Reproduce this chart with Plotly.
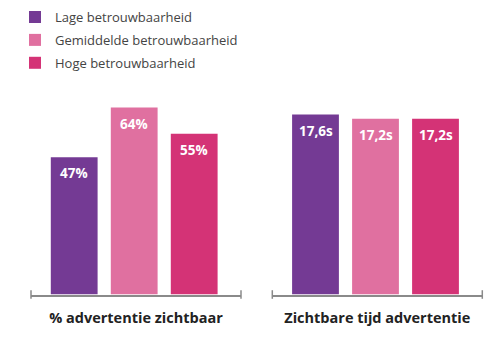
import plotly.graph_objects as go

levels = ["Lage betrouwbaarheid", "Gemiddelde betrouwbaarheid", "Hoge betrouwbaarheid"]
pct_visible = [47, 64, 55]
visible_time = [17.6, 17.2, 17.2]
panel_titles = ["% advertentie zichtbaar", "Zichtbare tijd advertentie"]
colors = ["#743A94", "#E070A0", "#D43376"]

FONT = "Open Sans"
fig = go.Figure()

for i, lvl in enumerate(levels):
    fig.add_trace(go.Bar(
        x=[lvl], y=[pct_visible[i]], name=lvl, marker_color=colors[i],
        marker_line_width=0, width=0.78, legendgroup=lvl, showlegend=True,
        xaxis="x", yaxis="y", hoverinfo="skip"))
    fig.add_trace(go.Bar(
        x=[lvl], y=[visible_time[i]], name=lvl, marker_color=colors[i],
        marker_line_width=0, width=0.78, legendgroup=lvl, showlegend=False,
        xaxis="x2", yaxis="y2", hoverinfo="skip"))

annotations = []
for i, lvl in enumerate(levels):
    annotations.append(dict(x=lvl, y=pct_visible[i], xref="x", yref="y",
                            text=f"<b>{pct_visible[i]}%</b>", showarrow=False,
                            yanchor="top", yshift=-5,
                            font=dict(family=FONT, size=13.5, color="white")))
    annotations.append(dict(x=lvl, y=visible_time[i], xref="x2", yref="y2",
                            text="<b>" + f"{visible_time[i]:.1f}".replace(".", ",") + "s</b>",
                            showarrow=False, yanchor="top", yshift=-5,
                            font=dict(family=FONT, size=13.5, color="white")))

shapes = []
for ax in ["x", "x2"]:
    ya = "y" if ax == "x" else "y2"
    for xd in [0, 1]:
        shapes.append(dict(type="line", xref=f"{ax} domain", yref=f"{ya} domain",
                           x0=xd, x1=xd, y0=-0.021, y1=0.021,
                           line=dict(color="#8a8a8a", width=1.5)))

axis_common = dict(showline=True, linecolor="#8a8a8a", linewidth=1.5,
                   showticklabels=False, ticks="", showgrid=False, zeroline=False,
                   type="category", categoryorder="array", categoryarray=levels,
                   range=[-0.72, 2.78], fixedrange=True)

fig.update_layout(
    width=500, height=340,
    margin=dict(l=0, r=0, t=0, b=0),
    paper_bgcolor="white", plot_bgcolor="white",
    barmode="overlay",
    font=dict(family=FONT, color="#333"),
    xaxis=dict(domain=[0.062, 0.482], anchor="y",
               title=dict(text=f"<b>{panel_titles[0]}</b>", standoff=18,
                          font=dict(family=FONT, size=14.5, color="#222")),
               **axis_common),
    xaxis2=dict(domain=[0.5446, 0.9646], anchor="y2",
                title=dict(text=f"<b>{panel_titles[1]}</b>", standoff=18,
                           font=dict(family=FONT, size=14.5, color="#222")),
                **axis_common),
    yaxis=dict(domain=[0.1338, 0.7353], range=[0, 70], visible=False, fixedrange=True),
    yaxis2=dict(domain=[0.1338, 0.7353], range=[0, 20], visible=False, anchor="x2", fixedrange=True),
    legend=dict(x=0.03, y=0.994, xanchor="left", yanchor="top",
                font=dict(family=FONT, size=13, color="#444"),
                bgcolor="rgba(0,0,0,0)", traceorder="grouped", tracegroupgap=3),
    annotations=annotations,
    shapes=shapes,
    showlegend=True,
)

fig.write_html("out.html")
